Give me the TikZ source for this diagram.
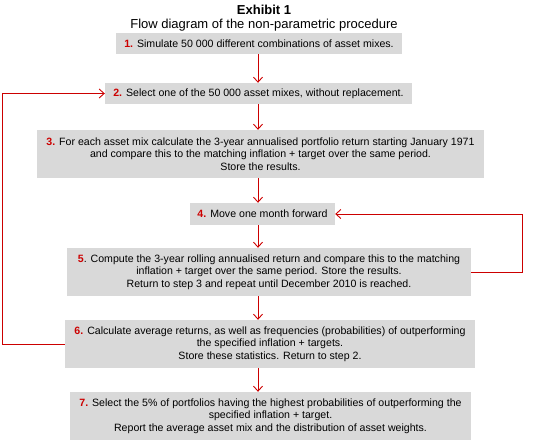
\documentclass[tikz,border=0pt]{standalone}
\usepackage{fontspec}
\setmainfont{Liberation Sans}
\usetikzlibrary{arrows.meta}
\definecolor{boxgray}{HTML}{D9D9D9}
\definecolor{stepred}{HTML}{CC0000}
\tikzset{
  stepbox/.style={fill=boxgray, draw=none, inner sep=0pt, align=center,
    font=\fontsize{10.6}{12.7}\selectfont, text=black},
  flow/.style={draw=stepred, line width=0.9pt, -{Straight Barb[length=5pt,width=9pt]}},
  loopline/.style={draw=stepred, line width=0.9pt, -{Straight Barb[length=5pt,width=9pt]}},
}
\newcommand{\sn}[1]{\textcolor{stepred}{\textbf{#1}}}
\begin{document}
\begin{tikzpicture}[x=1pt,y=-1pt]
\useasboundingbox (0,0) rectangle (538,440);
\node[font=\fontsize{13}{15}\selectfont\bfseries] (title) at (264,10) {Exhibit 1};
\node[font=\fontsize{13}{15}\selectfont] (subtitle) at (264,25) {Flow diagram of the non-parametric procedure};

\node[stepbox, minimum width=286pt, minimum height=21pt] (b1) at (259,43.5)
  {\sn{1.} Simulate 50 000 different combinations of asset mixes.};
\node[stepbox, minimum width=307pt, minimum height=21pt] (b2) at (258.5,93.5)
  {\sn{2.} Select one of the 50 000 asset mixes, without replacement.};
\node[stepbox, minimum width=447pt, minimum height=48pt] (b3) at (260.5,154)
  {\sn{3.} For each asset mix calculate the 3-year annualised portfolio return starting January 1971\\
   and compare this to the matching inflation + target over the same period.\\
   Store the results.};
\node[stepbox, minimum width=145pt, minimum height=22pt] (b4) at (262.5,214)
  {\sn{4.} Move one month forward};
\node[stepbox, minimum width=404pt, minimum height=48pt] (b5) at (269,272)
  {\sn{5}. Compute the 3-year rolling annualised return and compare this to the matching\\
   inflation + target over the same period. Store the results.\\
   Return to step 3 and repeat until December 2010 is reached.};
\node[stepbox, minimum width=410pt, minimum height=48pt] (b6) at (270,344)
  {\sn{6.} Calculate average returns, as well as frequencies (probabilities) of outperforming\\
   the specified inflation + targets.\\
   Store these statistics. Return to step 2.};
\node[stepbox, minimum width=401pt, minimum height=48pt] (b7) at (270.5,416)
  {\sn{7.} Select the 5\% of portfolios having the highest probabilities of outperforming the\\
   specified inflation + target.\\
   Report the average asset mix and the distribution of asset weights.};

\coordinate (ax) at (258,0);
\coordinate (lx) at (2,0);
\coordinate (rx) at (522,0);

\draw[flow] (b1.south -| ax) -- (b2.north -| ax);
\draw[flow] (b2.south -| ax) -- (b3.north -| ax);
\draw[flow] (b3.south -| ax) -- (b4.north -| ax);
\draw[flow] (b4.south -| ax) -- (b5.north -| ax);
\draw[flow] (b5.south -| ax) -- (b6.north -| ax);
\draw[flow] (b6.south -| ax) -- (b7.north -| ax);

\draw[loopline] (b5.east) -- (b5.east -| rx) -- (b4.east -| rx) -- (b4.east);
\draw[loopline] (b6.west) -- (b6.west -| lx) -- (b2.west -| lx) -- (b2.west);
\end{tikzpicture}
\end{document}
